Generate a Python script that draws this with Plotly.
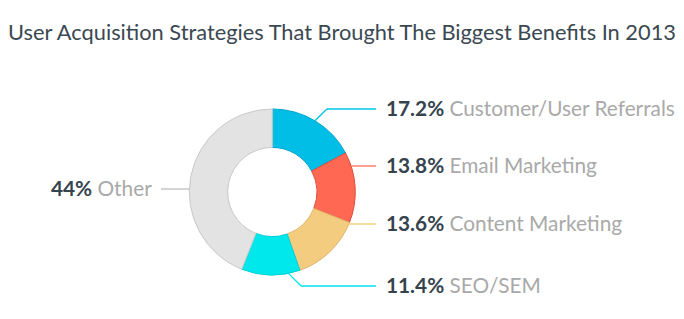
import math
import plotly.graph_objects as go

# ---- data ----
categories = ["Customer/User Referrals", "Email Marketing", "Content Marketing", "SEO/SEM", "Other"]
values = [17.2, 13.8, 13.6, 11.4, 44.0]
pct_labels = ["17.2%", "13.8%", "13.6%", "11.4%", "44%"]
title_text = "User Acquisition Strategies That Brought The Biggest Benefits In 2013"

# ---- styles ----
colors = ["#00BEE6", "#FF6954", "#F4CC7F", "#00E7EC", "#E3E3E3"]
border_colors = ["#00A6CF", "#DD4E3C", "#E2B46A", "#00CFD8", "#C9C9C9"]
line_colors = ["#00C6E8", "#FF6B57", "#F5C96C", "#00E2EA", "#BDBDBD"]
DARK = "#34434D"
GREY = "#A9A9A9"
FONT = "Lato"

W, H = 684, 319
CX, CY, R = 272.3, 192.0, 83.0
HOLE = 0.537

# label layout (pixel positions of label rows)
label_y = [109, 166, 224, 286, 189]
label_side = ["r", "r", "r", "r", "l"]
anchor_frac = [0.5, None, None, 0.2, None]   # None -> level (horizontal) leader
R_LINE_END, R_TEXT_X = 376, 384
L_LINE_END, L_TEXT_X = 161, 154


def px(x):
    return x / W


def py(y):
    return 1 - y / H


fig = go.Figure(go.Pie(
    values=values, labels=categories, sort=False, direction="clockwise", rotation=0,
    hole=HOLE, textinfo="none", hoverinfo="label+percent", showlegend=False,
    marker=dict(colors=colors, line=dict(color=border_colors, width=1)),
    domain=dict(x=[px(CX - R), px(CX + R)], y=[py(CY + R), py(CY - R)]),
))

total = sum(values)
cum = 0.0
shapes, annotations = [], []
for i, v in enumerate(values):
    a0 = cum / total * 360
    cum += v
    a1 = cum / total * 360
    ly = label_y[i]
    if anchor_frac[i] is not None:
        ang = math.radians(a0 + anchor_frac[i] * (a1 - a0))
        ax, ay = CX + R * math.sin(ang), CY - R * math.cos(ang)
        ex = ax + abs(ly - ay) * (1 if label_side[i] == "r" else -1)
    else:
        c = max(-1.0, min(1.0, (CY - ly) / R))
        ang = math.acos(c)
        if label_side[i] == "l":
            ang = 2 * math.pi - ang
        ax, ay = CX + R * math.sin(ang), ly
        ex = ax
    end_x = R_LINE_END if label_side[i] == "r" else L_LINE_END
    for (x0, y0, x1, y1) in [(ax, ay, ex, ly), (ex, ly, end_x, ly)]:
        shapes.append(dict(type="line", xref="paper", yref="paper",
                           x0=px(x0), y0=py(y0), x1=px(x1), y1=py(y1),
                           line=dict(color=line_colors[i], width=1.3)))
    txt = f"<b>{pct_labels[i]}</b> <span style='color:{GREY}'>{categories[i]}</span>"
    annotations.append(dict(
        xref="paper", yref="paper", showarrow=False, text=txt,
        x=px(R_TEXT_X if label_side[i] == "r" else L_TEXT_X), y=py(ly - 1.5),
        xanchor="left" if label_side[i] == "r" else "right", yanchor="middle",
        font=dict(family=FONT, size=20.8, color=DARK)))

fig.update_layout(
    width=W, height=H, margin=dict(l=0, r=0, t=0, b=0),
    paper_bgcolor="white", plot_bgcolor="white",
    title=dict(text=title_text, x=0.5, xanchor="center", y=py(32), yanchor="middle",
               font=dict(family=FONT, size=21.8, color="#3A4852")),
    shapes=shapes, annotations=annotations,
)

fig.write_html("out.html")
